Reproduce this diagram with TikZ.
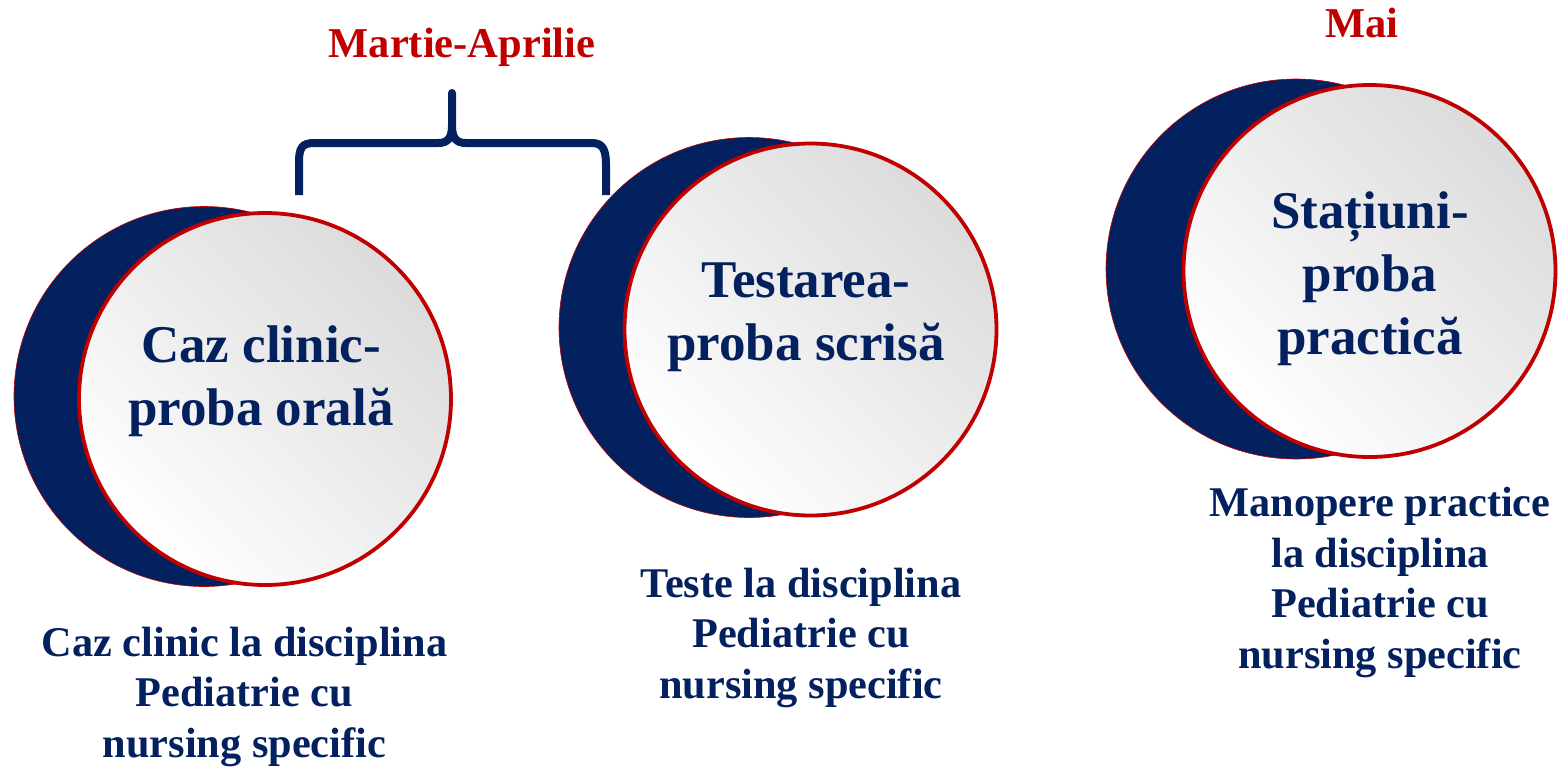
\documentclass[tikz,border=0pt]{standalone}
\usepackage{fontspec}
\setmainfont{Liberation Serif}
\definecolor{navy}{HTML}{03205F}
\definecolor{darkred}{HTML}{C00000}
\begin{document}
\begin{tikzpicture}[x=1pt,y=-1pt,
  back/.style={circle, fill=navy, draw=darkred, line width=0.6pt, minimum size=380pt, inner sep=0pt},
  front/.style={circle, draw=darkred, line width=3.8pt, minimum size=372pt, inner sep=0pt,
    top color=black!14, bottom color=white, shading angle=-45},
  big/.style={text=navy, font=\fontsize{53}{63}\selectfont\bfseries, align=center, anchor=base, inner sep=0pt},
  small/.style={text=navy, font=\fontsize{42.3}{50.5}\selectfont\bfseries, align=center, anchor=base, inner sep=0pt},
  month/.style={text=darkred, font=\fontsize{42.5}{48}\selectfont\bfseries, anchor=base, inner sep=0pt},
  brace/.style={draw=navy, line width=8pt, line join=round}]
\useasboundingbox (0,0) rectangle (1565,766);

% circles
\node[back] (d1) at (204,396.5) {};
\node[front] (c1) at (265,399) {};
\node[back] (d2) at (749,327.5) {};
\node[front] (c2) at (810.5,329.5) {};
\node[back] (d3) at (1296,269) {};
\node[front] (c3) at (1369.5,271) {};

% circle texts (anchor = baseline of last line)
\node[big] (t1) at (261,425) {Caz clinic-\\proba orală};
\node[big] (t2) at (806,360) {Testarea-\\proba scrisă};
\node[big] (t3) at (1370,354) {Stațiuni-\\proba\\practică};

% captions
\node[small] (l1) at (244.5,757) {Caz clinic la disciplina\\Pediatrie cu\\nursing specific};
\node[small] (l2) at (801,698) {Teste la disciplina\\Pediatrie cu\\nursing specific};
\node[small] (l3) at (1380,668) {Manopere practice\\la disciplina\\Pediatrie cu\\nursing specific};

% months
\node[month] (m1) at (462,57) {Martie-Aprilie};
\node[month] (m2) at (1362,37) {Mai};

% brace
\coordinate (bl) at (299,195);
\coordinate (bt) at (452,93);
\coordinate (br) at (606,195);
\draw[brace] (bl) -- (299,162) .. controls (299,148) and (302,143) .. (314,143)
  -- (438,143) .. controls (448,143) and (452,138) .. (452,125) -- (bt);
\draw[brace] (452,125) .. controls (452,138) and (456,143) .. (466,143)
  -- (592,143) .. controls (603,143) and (606,150) .. (606,165) -- (br);
\fill[navy] (bt) circle (4pt);
\end{tikzpicture}
\end{document}
